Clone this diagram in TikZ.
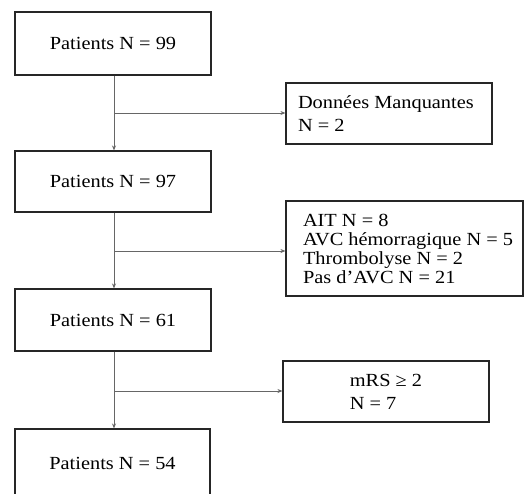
\documentclass[tikz,border=0pt]{standalone}
\usepackage{fontspec}
\usepackage{graphicx}
\setmainfont{Liberation Serif}
\usetikzlibrary{arrows.meta}
\newcommand\widet[1]{\scalebox{1.1}[1]{#1}}
\newcommand\linesblock[2]{\widet{\vbox{\lineskiplimit=-100pt\baselineskip=#1\relax #2}}}
\begin{document}
\begin{tikzpicture}[x=1pt,y=-1pt,
  box/.style={draw=black!85,line width=1.1pt,rectangle,inner sep=0pt,font=\fontsize{18.5}{22}\selectfont},
  link/.style={draw=black!60,line width=0.8pt},
  arr/.style={link,-{Stealth[length=5pt,width=4pt]}}]
\clip (0,0) rectangle (527,493);
\fill[white] (0,0) rectangle (527,493);
% main column
\node[box,minimum width=196pt,minimum height=63pt] (p99) at (113,43.5) {\widet{Patients N = 99}};
\node[box,minimum width=196pt,minimum height=61pt] (p97) at (113,181.5) {\widet{Patients N = 97}};
\node[box,minimum width=196pt,minimum height=62pt] (p61) at (113,320) {\widet{Patients N = 61}};
\node[box,minimum width=195pt,minimum height=68pt] (p54) at (112.5,463) {\widet{Patients N = 54}};
% side boxes
\node[box,minimum width=206pt,minimum height=61pt] (d1) at (389,113.5)
  {\makebox[182pt][l]{\linesblock{23pt}{\hbox{Données Manquantes}\hbox{N = 2}}}};
\node[box,minimum width=237pt,minimum height=95pt] (d2) at (404.5,248.5)
  {\makebox[203pt][l]{\linesblock{19pt}{\hbox{AIT N = 8}\hbox{AVC hémorragique N = 5}\hbox{Thrombolyse N = 2}\hbox{Pas d’AVC N = 21}}}};
\node[box,minimum width=206pt,minimum height=61pt] (d3) at (386,391.5)
  {\linesblock{23pt}{\hbox{mRS ≥ 2}\hbox{N = 7}}};
% branch points
\coordinate (b1) at (114,113);
\coordinate (b2) at (114,251);
\coordinate (b3) at (114,391);
% connectors
\draw[arr] (p99.south -| b1) -- (p97.north -| b1);
\draw[arr] (p97.south -| b1) -- (p61.north -| b1);
\draw[arr] (p61.south -| b1) -- (p54.north -| b1);
\draw[arr] (b1) -- (b1 -| d1.west);
\draw[arr] (b2) -- (b2 -| d2.west);
\draw[arr] (b3) -- (b3 -| d3.west);
\end{tikzpicture}
\end{document}
